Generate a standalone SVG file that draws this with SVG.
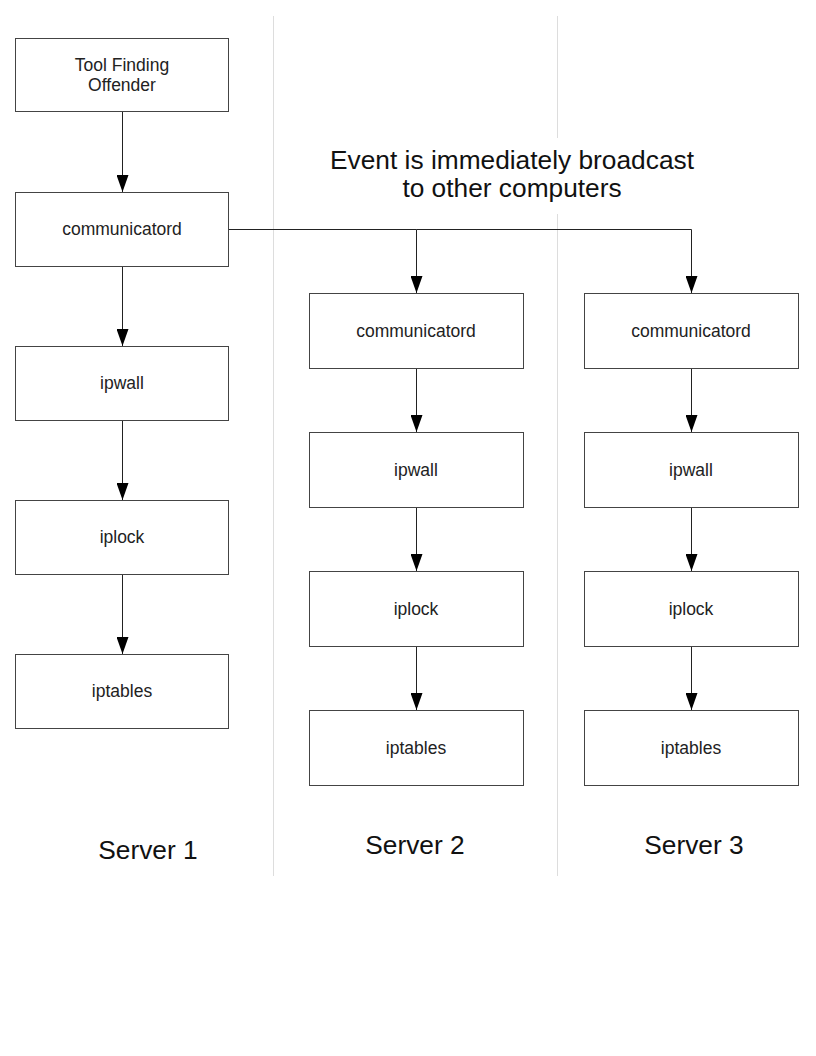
<svg xmlns="http://www.w3.org/2000/svg" width="816" height="1056" viewBox="0 0 816 1056">
<style>
.box{fill:#fff;stroke:#444;stroke-width:1}
.lbl{font-family:"Liberation Sans",Arial,sans-serif;font-size:17.5px;fill:#222;text-anchor:middle}
.big{font-family:"Liberation Sans",Arial,sans-serif;font-size:26.3px;fill:#111;text-anchor:middle}
.con{stroke:#222;stroke-width:1;fill:none}
.div{stroke:#ddd;stroke-width:1}
</style>
<defs>
<marker id="ah" viewBox="0 0 17 12" refX="17" refY="6" markerWidth="17" markerHeight="12" orient="auto" markerUnits="userSpaceOnUse">
<path d="M0,0 L17,6 L0,12 Z" fill="#000"/>
</marker>
</defs>
<rect width="816" height="1056" fill="#fff"/>
<g id="dividers">
<line class="div" x1="273.500" y1="16" x2="273.500" y2="876"/>
<line class="div" x1="557.500" y1="16" x2="557.500" y2="876"/>
</g>
<g id="title">
<rect x="325" y="138" width="374" height="76" fill="#fff"/>
<text class="big" x="512" y="169">Event is immediately broadcast</text>
<text class="big" x="512" y="197">to other computers</text>
</g>
<g id="connectors">
<line class="con" x1="122.500" y1="111" x2="122.500" y2="192" marker-end="url(#ah)"/>
<line class="con" x1="122.500" y1="266" x2="122.500" y2="346" marker-end="url(#ah)"/>
<line class="con" x1="122.500" y1="420" x2="122.500" y2="500" marker-end="url(#ah)"/>
<line class="con" x1="122.500" y1="574" x2="122.500" y2="654" marker-end="url(#ah)"/>
<polyline class="con" points="228,229.500 416.500,229.500"/>
<polyline class="con" points="416.500,229.500 416.500,293" marker-end="url(#ah)"/>
<polyline class="con" points="416.500,229.500 691.500,229.500 691.500,293" marker-end="url(#ah)"/>
<line class="con" x1="416.500" y1="368" x2="416.500" y2="432" marker-end="url(#ah)"/>
<line class="con" x1="416.500" y1="507" x2="416.500" y2="571" marker-end="url(#ah)"/>
<line class="con" x1="416.500" y1="646" x2="416.500" y2="710" marker-end="url(#ah)"/>
<line class="con" x1="691.500" y1="368" x2="691.500" y2="432" marker-end="url(#ah)"/>
<line class="con" x1="691.500" y1="507" x2="691.500" y2="571" marker-end="url(#ah)"/>
<line class="con" x1="691.500" y1="646" x2="691.500" y2="710" marker-end="url(#ah)"/>
</g>
<g id="s1-tool"><rect class="box" x="15.500" y="38.500" width="213" height="73"/><text class="lbl" x="122" y="71">Tool Finding</text><text class="lbl" x="122" y="91">Offender</text></g>
<g id="s1-communicatord"><rect class="box" x="15.500" y="192.500" width="213" height="74"/><text class="lbl" x="122" y="235">communicatord</text></g>
<g id="s1-ipwall"><rect class="box" x="15.500" y="346.500" width="213" height="74"/><text class="lbl" x="122" y="389">ipwall</text></g>
<g id="s1-iplock"><rect class="box" x="15.500" y="500.500" width="213" height="74"/><text class="lbl" x="122" y="543">iplock</text></g>
<g id="s1-iptables"><rect class="box" x="15.500" y="654.500" width="213" height="74"/><text class="lbl" x="122" y="697">iptables</text></g>
<g id="s2-communicatord"><rect class="box" x="309.500" y="293.500" width="214" height="75"/><text class="lbl" x="416" y="337">communicatord</text></g>
<g id="s2-ipwall"><rect class="box" x="309.500" y="432.500" width="214" height="75"/><text class="lbl" x="416" y="476">ipwall</text></g>
<g id="s2-iplock"><rect class="box" x="309.500" y="571.500" width="214" height="75"/><text class="lbl" x="416" y="615">iplock</text></g>
<g id="s2-iptables"><rect class="box" x="309.500" y="710.500" width="214" height="75"/><text class="lbl" x="416" y="754">iptables</text></g>
<g id="s3-communicatord"><rect class="box" x="584.500" y="293.500" width="214" height="75"/><text class="lbl" x="691" y="337">communicatord</text></g>
<g id="s3-ipwall"><rect class="box" x="584.500" y="432.500" width="214" height="75"/><text class="lbl" x="691" y="476">ipwall</text></g>
<g id="s3-iplock"><rect class="box" x="584.500" y="571.500" width="214" height="75"/><text class="lbl" x="691" y="615">iplock</text></g>
<g id="s3-iptables"><rect class="box" x="584.500" y="710.500" width="214" height="75"/><text class="lbl" x="691" y="754">iptables</text></g>
<g id="server-labels">
<text class="big" x="148" y="859">Server 1</text>
<text class="big" x="415" y="854">Server 2</text>
<text class="big" x="694" y="854">Server 3</text>
</g>
</svg>
